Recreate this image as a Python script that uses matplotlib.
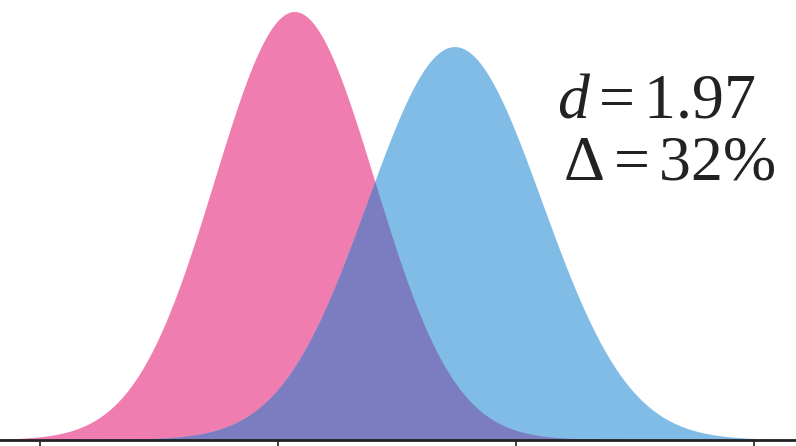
import numpy as np
import matplotlib
matplotlib.use("Agg")
import matplotlib.pyplot as plt

# Two normal distributions (arbitrary units) and the annotated statistics
group_names = ["A", "B"]
means = [1.071, 1.744]
sds = [0.336, 0.366]
colors = ["#f07db0", "#80bce6"]
overlap_color = "#7b7dc0"
tick_positions = [0, 1, 2, 3]
d_value = "1.97"
delta_value = "32"

x = np.linspace(-0.2, 3.2, 2000)

def normal_pdf(x, mu, sd):
    return np.exp(-0.5 * ((x - mu) / sd) ** 2) / (sd * np.sqrt(2 * np.pi))

pdfs = [normal_pdf(x, m, s) for m, s in zip(means, sds)]

plt.rcParams["mathtext.fontset"] = "custom"
plt.rcParams["mathtext.rm"] = "Liberation Serif"
plt.rcParams["mathtext.it"] = "Liberation Serif:italic"
plt.rcParams["mathtext.bf"] = "Liberation Serif:bold"

W, H = 796, 446
fig = plt.figure(figsize=(W / 100, H / 100), dpi=100)
ax = fig.add_axes([0, 6 / H, 1, 440 / H])

for pdf, c in zip(pdfs, colors):
    ax.fill_between(x, 0, pdf, color=c, linewidth=0)
ax.fill_between(x, 0, np.minimum(*pdfs), color=overlap_color, linewidth=0)

ax.set_xlim(-40 / 238, 756 / 238)
peak = pdfs[0].max()
ax.set_ylim(0, peak * 440 / 428)

for side in ["top", "left", "right"]:
    ax.spines[side].set_visible(False)
ax.spines["bottom"].set_linewidth(2)
ax.spines["bottom"].set_color("#222222")
ax.set_xticks(tick_positions)
ax.set_xticklabels([])
ax.tick_params(axis="x", direction="out", length=4, width=1.2, color="#222222")
ax.set_yticks([])

ax.text(557 / W, 1 - 118 / H, r"$d{=}\mathrm{%s}$" % d_value, transform=fig.transFigure,
        fontsize=46, color="#222222", ha="left", va="baseline")
ax.text(563 / W, 1 - 180 / H, r"$\Delta{=}\mathrm{%s\%%}$" % delta_value, transform=fig.transFigure,
        fontsize=46, color="#222222", ha="left", va="baseline")

fig.savefig("out.png", dpi=100)
